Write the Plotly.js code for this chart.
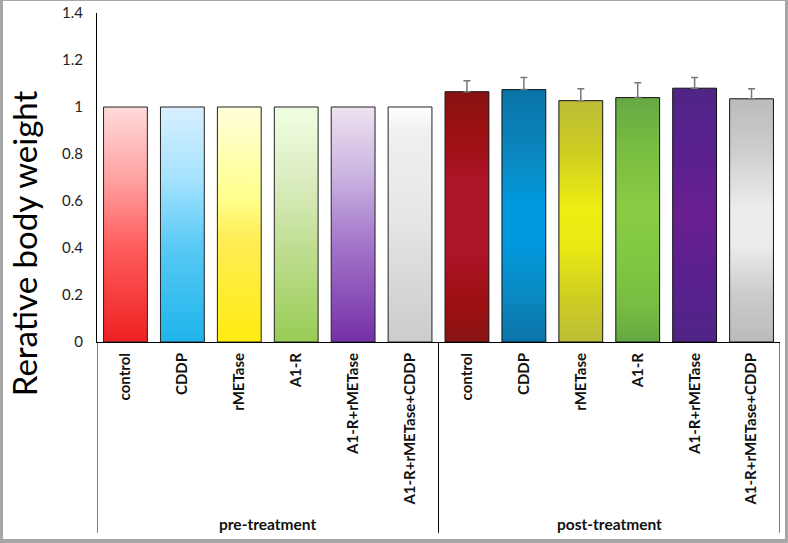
<!DOCTYPE html>
<html>
<head>
<meta charset="utf-8">
<script src="https://cdn.plot.ly/plotly-3.0.1.min.js"></script>
<style>
  html, body { margin: 0; padding: 0; background: #fff; }
  #wrap { position: relative; width: 788px; height: 543px; }
  #chart { width: 788px; height: 543px; }
  #frame { position: absolute; left: 0; top: 0; width: 788px; height: 543px; box-sizing: border-box;
           border-top: 1px solid #a6a6a6; border-left: 3px solid #a6a6a6; border-right: 3px solid #a6a6a6; border-bottom: 4px solid #a6a6a6; pointer-events: none; }
</style>
</head>
<body>
<div id="wrap"><div id="chart"></div><div id="frame"></div></div>
<script>
// ---- data ----
const groups = ["pre-treatment", "post-treatment"];
const treatments = ["control", "CDDP", "rMETase", "A1-R", "A1-R+rMETase", "A1-R+rMETase+CDDP"];
const preValues = [1, 1, 1, 1, 1, 1];
const postValues = [1.065, 1.074, 1.027, 1.040, 1.080, 1.035];
const postErrors = [0.047, 0.051, 0.051, 0.063, 0.045, 0.043];
const yTitle = "Rerative body weight";

// gradient stops (top -> bottom), styling only
const preGradients = [
  [[0, "#ffdada"], [0.3, "#ffa3a3"], [0.6, "#ff5c5c"], [1, "#ee2020"]],
  [[0, "#d9efff"], [0.3, "#a6e3ff"], [0.6, "#58c9f5"], [1, "#1eb4ea"]],
  [[0, "#ffffdc"], [0.4, "#ffff8a"], [0.55, "#ffed58"], [1, "#ffec10"]],
  [[0, "#f0ffe2"], [0.3, "#dcedc2"], [0.6, "#c0de92"], [1, "#98cc55"]],
  [[0, "#eee2f0"], [0.3, "#c9b2e0"], [0.6, "#a272c8"], [1, "#7530a8"]],
  [[0, "#ffffff"], [0.1, "#f0f0f0"], [0.45, "#e7e7e7"], [0.7, "#dadada"], [1, "#cccccc"]]
];
const postGradients = [
  [[0, "#8a1212"], [0.17, "#9c1010"], [0.35, "#ac1428"], [0.65, "#ac1428"], [0.85, "#9c1010"], [1, "#8a1414"]],
  [[0, "#0b74a8"], [0.3, "#0a8ac4"], [0.45, "#009ade"], [0.6, "#009ade"], [0.8, "#0a8ac4"], [1, "#0b74a8"]],
  [[0, "#bcbc38"], [0.2, "#cccc22"], [0.45, "#eeee12"], [0.6, "#eaea14"], [0.8, "#d0d020"], [1, "#bcbc38"]],
  [[0, "#66a844"], [0.2, "#78bc42"], [0.45, "#8acc44"], [0.65, "#80c842"], [0.85, "#78bc42"], [1, "#66a844"]],
  [[0, "#4f2585"], [0.25, "#5a2090"], [0.5, "#6a2090"], [0.75, "#5a2090"], [1, "#4f2585"]],
  [[0, "#bbbbbb"], [0.2, "#cccccc"], [0.45, "#ececec"], [0.6, "#ececec"], [0.8, "#cccccc"], [1, "#bbbbbb"]]
];

const FONT = "Lato, 'Liberation Sans', sans-serif";

// unique category keys per group, displayed with the plain treatment name
const preX = treatments.map(t => groups[0] + "|" + t);
const postX = treatments.map(t => groups[1] + "|" + t);
const allX = preX.concat(postX);
const allText = treatments.concat(treatments);

const traces = [
  {
    type: "bar", x: preX, y: preValues, width: 0.77,
    marker: { color: preGradients.map(g => g[g.length - 1][1]), line: { color: "#222", width: 1 } },
    hoverinfo: "skip"
  },
  {
    type: "bar", x: postX, y: postValues, width: 0.77,
    marker: { color: postGradients.map(g => g[2][1]), line: { color: "#111", width: 1 } },
    error_y: { type: "data", array: postErrors, symmetric: false, arrayminus: postErrors.map(() => 0),
               color: "#777", thickness: 1.5, width: 3.5 },
    hoverinfo: "skip"
  }
];

// group dividers and labels, derived from the category counts
const n = treatments.length;
const dividerPos = [-0.5, n - 0.5, 2 * n - 0.5];
const shapes = dividerPos.map(xp => ({
  type: "line", xref: "x", yref: "paper", x0: xp, x1: xp, y0: 0, y1: -0.58,
  line: { color: "#000", width: 1 }
}));
const groupAnnotations = groups.map((g, gi) => ({
  text: "<b>" + g + "</b>", showarrow: false,
  xref: "x", yref: "paper", x: gi * n + (n - 1) / 2, y: -0.553,
  xanchor: "center", yanchor: "middle",
  font: { family: FONT, size: 15.5, color: "#111" }
}));

const layout = {
  width: 788, height: 543,
  margin: { l: 97, r: 8, t: 13, b: 201 },
  paper_bgcolor: "#fff", plot_bgcolor: "#fff",
  showlegend: false,
  barmode: "overlay",
  font: { family: FONT, color: "#111" },
  xaxis: {
    type: "category", categoryorder: "array", categoryarray: allX,
    tickmode: "array", tickvals: allX, ticktext: allText,
    range: [-0.5, 2 * n - 0.5],
    showline: true, linecolor: "#000", linewidth: 1,
    ticks: "", tickangle: -90, ticklabelstandoff: 4,
    tickfont: { family: FONT, size: 15, weight: "bold", color: "#111" },
    showgrid: false, zeroline: false, automargin: false
  },
  yaxis: {
    range: [0, 1.4], dtick: 0.2, tick0: 0,
    showline: true, linecolor: "#000", linewidth: 1,
    ticks: "", showgrid: false, zeroline: false,
    tickfont: { family: FONT, size: 15, color: "#222" },
    ticklabelstandoff: 10
  },
  shapes: shapes,
  annotations: [{
    text: yTitle, textangle: -90, showarrow: false,
    xref: "paper", yref: "paper", x: -0.107, y: 0.3,
    xanchor: "center", yanchor: "middle",
    font: { family: FONT, size: 33, color: "#000" }
  }].concat(groupAnnotations)
};

Plotly.newPlot("chart", traces, layout, { displayModeBar: false, staticPlot: true }).then(gd => {
  const svg = gd.querySelector("svg.main-svg");
  let defs = svg.querySelector("defs");
  const NS = "http://www.w3.org/2000/svg";
  function addGrad(id, stops) {
    const lg = document.createElementNS(NS, "linearGradient");
    lg.setAttribute("id", id);
    lg.setAttribute("x1", "0"); lg.setAttribute("y1", "0");
    lg.setAttribute("x2", "0"); lg.setAttribute("y2", "1");
    stops.forEach(s => {
      const st = document.createElementNS(NS, "stop");
      st.setAttribute("offset", s[0]);
      st.setAttribute("stop-color", s[1]);
      lg.appendChild(st);
    });
    defs.appendChild(lg);
  }
  const traceEls = gd.querySelectorAll(".barlayer .trace");
  [preGradients, postGradients].forEach((grads, ti) => {
    const paths = traceEls[ti] ? traceEls[ti].querySelectorAll(".point path") : [];
    paths.forEach((p, i) => {
      const id = "grad" + ti + "_" + i;
      addGrad(id, grads[i]);
      p.style.fill = "url(#" + id + ")";
    });
  });
});
</script>
</body>
</html>
